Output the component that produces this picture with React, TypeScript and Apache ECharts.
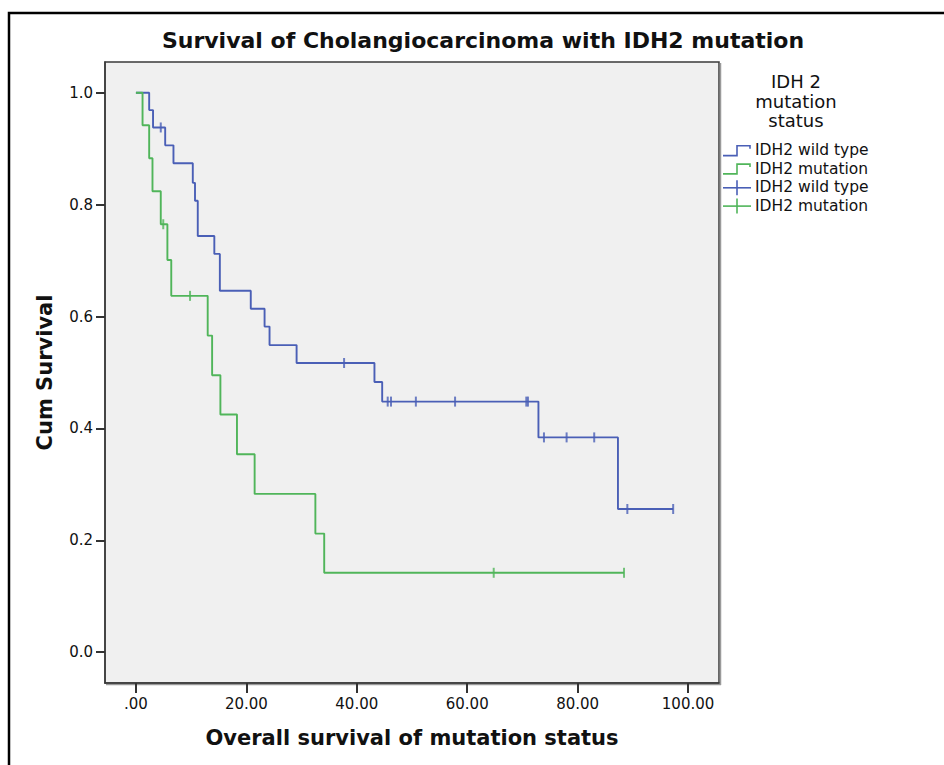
import React, { useEffect, useRef } from "react";
import * as echarts from "echarts";

// Kaplan-Meier step points (time, cumulative survival)
const wildTypeTimes = [0, 2.4, 3.1, 5.3, 6.8, 10.3, 10.7, 11.2, 14.2, 15.2, 20.8, 23.3, 24.2, 29.1, 43.2, 44.6, 72.9, 87.3, 97.3];
const wildTypeSurvival = [1.0, 0.969, 0.938, 0.906, 0.874, 0.839, 0.807, 0.744, 0.712, 0.646, 0.614, 0.582, 0.549, 0.517, 0.483, 0.448, 0.384, 0.256, 0.256];
const wildTypeCensoredTimes = [4.5, 37.7, 45.6, 46.2, 50.7, 57.8, 70.7, 71.0, 73.9, 78.0, 83.0, 89.0, 97.3];
const wildTypeCensoredSurvival = [0.938, 0.517, 0.448, 0.448, 0.448, 0.448, 0.448, 0.448, 0.384, 0.384, 0.384, 0.256, 0.256];

const mutationTimes = [0, 1.2, 2.4, 3.0, 4.5, 5.7, 6.4, 13.0, 13.8, 15.3, 18.3, 21.5, 32.5, 34.1, 88.4];
const mutationSurvival = [1.0, 0.942, 0.883, 0.824, 0.765, 0.701, 0.637, 0.566, 0.495, 0.425, 0.354, 0.283, 0.212, 0.142, 0.142];
const mutationCensoredTimes = [4.95, 9.8, 64.8, 88.4];
const mutationCensoredSurvival = [0.765, 0.637, 0.142, 0.142];

const xTicks = [0, 20, 40, 60, 80, 100];
const yTicks = [0, 0.2, 0.4, 0.6, 0.8, 1.0];

const chartTitle = "Survival of Cholangiocarcinoma with IDH2 mutation";
const xTitle = "Overall survival of mutation status";
const yTitle = "Cum Survival";
const legendTitle = ["IDH 2", "mutation", "status"];
const legendLabels = ["IDH2 wild type", "IDH2 mutation", "IDH2 wild type", "IDH2 mutation"];

const BLUE = "#4a5fb6";
const GREEN = "#50b55a";
const FONT = "DejaVu Sans";

const zip = (a: number[], b: number[]) => a.map((v, i) => [v, b[i]]);

export default function App() {
  const ref = useRef<HTMLDivElement>(null);
  useEffect(() => {
    if (!ref.current) return;
    const chart = echarts.init(ref.current, null, { renderer: "svg" });
    const gridL = 105, gridT = 62, gridW = 614, gridH = 621;
    const legendColors = [BLUE, GREEN, BLUE, GREEN];
    const rowY = [150.3, 168.6, 187.3, 205.6];
    const legendGraphics: any[] = [];
    legendTitle.forEach((t, i) => {
      legendGraphics.push({
        type: "text",
        x: 796,
        y: [81, 101, 120.4][i],
        style: { text: t, fontFamily: FONT, fontSize: 18, fill: "#111", align: "center", verticalAlign: "middle" },
      });
    });
    legendLabels.forEach((t, i) => {
      const y = rowY[i];
      if (i < 2) {
        legendGraphics.push({
          type: "polyline",
          shape: { points: [[723, y + 5.3], [737, y + 5.3], [737, y - 4.5], [750, y - 4.5], [750, y - 1.5]] },
          style: { stroke: legendColors[i], lineWidth: 1.6, fill: "none" },
        });
      } else {
        legendGraphics.push({
          type: "line",
          shape: { x1: 723, y1: y + 0.5, x2: 751, y2: y + 0.5 },
          style: { stroke: legendColors[i], lineWidth: 1.6 },
        });
        legendGraphics.push({
          type: "line",
          shape: { x1: 737, y1: y - 7, x2: 737, y2: y + 8 },
          style: { stroke: legendColors[i], lineWidth: 1.6 },
        });
      }
      legendGraphics.push({
        type: "text",
        x: 755,
        y,
        style: { text: t, fontFamily: FONT, fontSize: 15.5, fill: "#111", align: "left", verticalAlign: "middle" },
      });
    });

    chart.setOption({
      animation: false,
      backgroundColor: "#ffffff",
      grid: {
        left: gridL,
        top: gridT,
        width: gridW,
        height: gridH,
        show: true,
        backgroundColor: "#f0f0f0",
        borderColor: "#3a3a3a",
        borderWidth: 1.5,
      },
      xAxis: {
        type: "value",
        min: -5.6,
        max: 105.6,
        splitLine: { show: false },
        axisLine: { show: true, onZero: false, lineStyle: { color: "#3a3a3a", width: 1.5 } },
        axisTick: { show: true, customValues: xTicks, length: 10, lineStyle: { color: "#333", width: 2 } },
        axisLabel: {
          customValues: xTicks,
          margin: 13,
          color: "#111",
          fontFamily: FONT,
          fontSize: 15,
          formatter: (v: number) => (v === 0 ? ".00" : v.toFixed(2)),
        },
      },
      yAxis: {
        type: "value",
        min: -0.055,
        max: 1.055,
        splitLine: { show: false },
        axisLine: { show: true, onZero: false, lineStyle: { color: "#3a3a3a", width: 1.5 } },
        axisTick: { show: true, customValues: yTicks, length: 9, lineStyle: { color: "#333", width: 2 } },
        axisLabel: {
          customValues: yTicks,
          margin: 12,
          color: "#111",
          fontFamily: FONT,
          fontSize: 15,
          formatter: (v: number) => v.toFixed(1),
        },
      },
      series: [
        {
          type: "line",
          name: "IDH2 wild type",
          step: "end",
          showSymbol: false,
          data: zip(wildTypeTimes, wildTypeSurvival),
          lineStyle: { color: BLUE, width: 1.9 },
          itemStyle: { color: BLUE },
          z: 3,
        },
        {
          type: "line",
          name: "IDH2 mutation",
          step: "end",
          showSymbol: false,
          data: zip(mutationTimes, mutationSurvival),
          lineStyle: { color: GREEN, width: 1.9 },
          itemStyle: { color: GREEN },
          z: 4,
        },
        {
          type: "scatter",
          name: "IDH2 wild type censored",
          symbol: "rect",
          symbolSize: [2, 10],
          data: zip(wildTypeCensoredTimes, wildTypeCensoredSurvival),
          itemStyle: { color: BLUE },
          z: 5,
        },
        {
          type: "scatter",
          name: "IDH2 mutation censored",
          symbol: "rect",
          symbolSize: [2, 10],
          data: zip(mutationCensoredTimes, mutationCensoredSurvival),
          itemStyle: { color: GREEN },
          z: 5,
        },
      ],
      graphic: [
        {
          type: "rect",
          shape: { x: 9, y: 13, width: 1000, height: 1000 },
          style: { fill: "none", stroke: "#000", lineWidth: 2.5 },
          silent: true,
        },
        {
          type: "line",
          shape: { x1: gridL + gridW + 1.5, y1: gridT + 1, x2: gridL + gridW + 1.5, y2: gridT + gridH + 2 },
          style: { stroke: "#9a9a9a", lineWidth: 1.5 },
        },
        {
          type: "line",
          shape: { x1: gridL + 1, y1: gridT + gridH + 1.5, x2: gridL + gridW + 2, y2: gridT + gridH + 1.5 },
          style: { stroke: "#9a9a9a", lineWidth: 1.5 },
        },
        {
          type: "text",
          x: 483,
          y: 40.3,
          style: { text: chartTitle, fontFamily: FONT, fontSize: 22, fontWeight: "bold", fill: "#111", align: "center", verticalAlign: "middle" },
        },
        {
          type: "text",
          x: 412,
          y: 737.7,
          style: { text: xTitle, fontFamily: FONT, fontSize: 21, fontWeight: "bold", fill: "#111", align: "center", verticalAlign: "middle" },
        },
        {
          type: "text",
          x: 44.7,
          y: 372.5,
          rotation: Math.PI / 2,
          style: { text: yTitle, fontFamily: FONT, fontSize: 21, fontWeight: "bold", fill: "#111", align: "center", verticalAlign: "middle" },
        },
        ...legendGraphics,
      ],
    });
    return () => chart.dispose();
  }, []);
  return <div ref={ref} style={{ position: "fixed", left: 0, top: 0, width: 944, height: 765 }} />;
}
